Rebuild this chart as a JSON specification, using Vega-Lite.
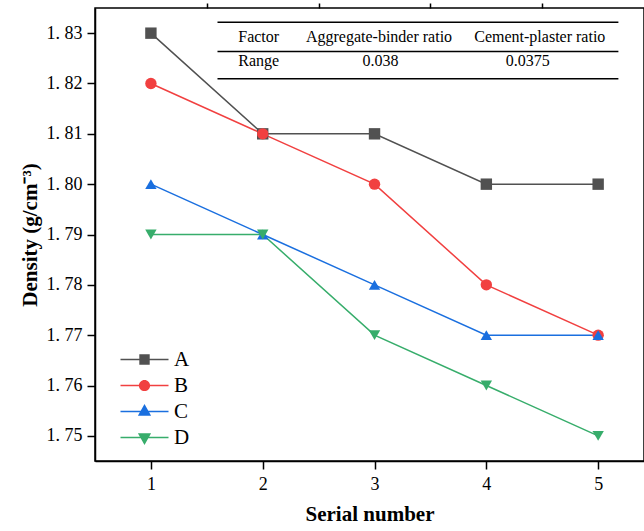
{
  "$schema": "https://vega.github.io/schema/vega-lite/v6.json",
  "width": 549,
  "height": 453,
  "autosize": {"type": "none"},
  "padding": {"left": 95, "top": 8, "right": 0, "bottom": 70},
  "background": "white",
  "config": {
    "view": {"stroke": "black", "strokeWidth": 1.5},
    "font": "Liberation Serif",
    "axis": {
      "domainColor": "black", "domainWidth": 1.5, "tickColor": "black", "tickWidth": 1.5,
      "labelFont": "Liberation Serif", "labelFontSize": 18, "labelColor": "black",
      "titleFont": "Liberation Serif", "titleFontSize": 21, "titleFontWeight": "bold", "titleColor": "black",
      "grid": false
    }
  },
  "datasets": {
    "lines": [
      {"s": "A", "x": 1, "y": 1.83}, {"s": "A", "x": 2, "y": 1.81}, {"s": "A", "x": 3, "y": 1.81}, {"s": "A", "x": 4, "y": 1.80}, {"s": "A", "x": 5, "y": 1.80},
      {"s": "B", "x": 1, "y": 1.82}, {"s": "B", "x": 2, "y": 1.81}, {"s": "B", "x": 3, "y": 1.80}, {"s": "B", "x": 4, "y": 1.78}, {"s": "B", "x": 5, "y": 1.77},
      {"s": "C", "x": 1, "y": 1.80}, {"s": "C", "x": 2, "y": 1.79}, {"s": "C", "x": 3, "y": 1.78}, {"s": "C", "x": 4, "y": 1.77}, {"s": "C", "x": 5, "y": 1.77},
      {"s": "D", "x": 1, "y": 1.79}, {"s": "D", "x": 2, "y": 1.79}, {"s": "D", "x": 3, "y": 1.77}, {"s": "D", "x": 4, "y": 1.76}, {"s": "D", "x": 5, "y": 1.75}
    ],
    "tableText": [
      {"label": "Factor", "tx": 1.964, "ty": 1.82917},
      {"label": "Aggregate-binder ratio", "tx": 3.04, "ty": 1.82917},
      {"label": "Cement-plaster ratio", "tx": 4.478, "ty": 1.82917},
      {"label": "Range", "tx": 1.964, "ty": 1.8245},
      {"label": "0.038", "tx": 3.054, "ty": 1.8245},
      {"label": "0.0375", "tx": 4.371, "ty": 1.8245}
    ],
    "tableRules": [
      {"x1": 1.5955, "x2": 5.181, "ty": 1.83218},
      {"x1": 1.5955, "x2": 5.181, "ty": 1.82635},
      {"x1": 1.5955, "x2": 5.181, "ty": 1.82092}
    ]
  },
  "resolve": {
    "scale": {"color": "independent", "shape": "independent"},
    "axis": {"x": "independent", "y": "independent"}
  },
  "layer": [
    {
      "data": {"name": "lines"},
      "mark": {"type": "line", "strokeWidth": 1.5},
      "encoding": {
        "x": {
          "field": "x", "type": "quantitative",
          "scale": {"domain": [0.5, 5.41], "nice": false, "zero": false},
          "axis": {"values": [1, 2, 3, 4, 5], "title": "Serial number", "tickSize": 8, "labelPadding": 6, "titlePadding": 10, "format": "d"}
        },
        "y": {
          "field": "y", "type": "quantitative",
          "scale": {"domain": [1.745, 1.835], "nice": false, "zero": false},
          "axis": {"values": [1.75, 1.76, 1.77, 1.78, 1.79, 1.80, 1.81, 1.82, 1.83], "title": "Density (g/cm⁻³)", "tickSize": 8, "labelPadding": 5, "titlePadding": 6,
            "labelExpr": "replace(format(datum.value, '.2f'), '.', '. ')"}
        },
        "color": {"field": "s", "type": "nominal", "scale": {"domain": ["A", "B", "C", "D"], "range": ["#515151", "#F14040", "#1A6FDF", "#37AD6B"]}, "legend": null}
      }
    },
    {
      "data": {"name": "lines"},
      "mark": {"type": "point", "filled": true, "size": 130, "opacity": 1},
      "encoding": {
        "x": {"field": "x", "type": "quantitative", "scale": {"domain": [0.5, 5.41], "nice": false, "zero": false},
          "axis": {"values": [1.5, 2.5, 3.5, 4.5], "labels": false, "domain": false, "title": null, "tickSize": 5}},
        "y": {"field": "y", "type": "quantitative", "scale": {"domain": [1.745, 1.835], "nice": false, "zero": false},
          "axis": {"values": [1.745, 1.755, 1.765, 1.775, 1.785, 1.795, 1.805, 1.815, 1.825, 1.835], "labels": false, "domain": false, "title": null, "tickSize": 5}},
        "color": {"field": "s", "type": "nominal", "scale": {"domain": ["A", "B", "C", "D"], "range": ["#515151", "#F14040", "#1A6FDF", "#37AD6B"]}, "legend": null},
        "shape": {"field": "s", "type": "nominal", "scale": {"domain": ["A", "B", "C", "D"], "range": ["square", "circle", "triangle-up", "triangle-down"]}, "legend": null}
      }
    },
    {
      "data": {"name": "lines"},
      "transform": [{"filter": "false"}],
      "mark": {"type": "point", "filled": true, "opacity": 1},
      "encoding": {
        "x": {"field": "x", "type": "quantitative", "scale": {"domain": [0.5, 5.41], "nice": false, "zero": false}, "axis": null},
        "y": {"field": "y", "type": "quantitative", "scale": {"domain": [1.745, 1.835], "nice": false, "zero": false}, "axis": null},
        "color": {"field": "s", "type": "nominal", "scale": {"domain": ["A", "B", "C", "D"], "range": ["#515151", "#F14040", "#1A6FDF", "#37AD6B"]},
          "legend": {"orient": "none", "legendX": 39, "legendY": 341, "title": null, "symbolSize": 400, "symbolStrokeWidth": 0, "symbolOpacity": 1, "labelFontSize": 21, "labelFont": "Liberation Serif", "labelColor": "black", "labelOffset": 19, "rowPadding": 4}},
        "shape": {"field": "s", "type": "nominal", "scale": {"domain": ["A", "B", "C", "D"], "range": [
          "M-2.4,-0.08H2.4V0.08H-2.4Z M-0.52,-0.52H0.52V0.52H-0.52Z",
          "M-2.4,-0.08H2.4V0.08H-2.4Z M-0.56,0A0.56,0.56 0 1,1 0.56,0A0.56,0.56 0 1,1 -0.56,0Z",
          "M-2.4,-0.08H2.4V0.08H-2.4Z M0,-0.75L0.66,0.42H-0.66Z",
          "M-2.4,-0.08H2.4V0.08H-2.4Z M0,0.75L-0.66,-0.42H0.66Z"
        ]},
          "legend": {"orient": "none", "legendX": 39, "legendY": 341, "title": null, "symbolSize": 400, "symbolStrokeWidth": 0, "symbolOpacity": 1, "labelFontSize": 21, "labelFont": "Liberation Serif", "labelColor": "black", "labelOffset": 19, "rowPadding": 4}}
      }
    },
    {
      "data": {"name": "tableRules"},
      "mark": {"type": "rule", "color": "black", "strokeWidth": 1.5},
      "encoding": {
        "x": {"field": "x1", "type": "quantitative", "scale": {"domain": [0.5, 5.41], "nice": false, "zero": false}, "axis": null},
        "x2": {"field": "x2"},
        "y": {"field": "ty", "type": "quantitative", "scale": {"domain": [1.745, 1.835], "nice": false, "zero": false}, "axis": null}
      }
    },
    {
      "data": {"name": "tableText"},
      "mark": {"type": "text", "font": "Liberation Serif", "fontSize": 16, "color": "black", "align": "center", "baseline": "middle"},
      "encoding": {
        "x": {"field": "tx", "type": "quantitative", "scale": {"domain": [0.5, 5.41], "nice": false, "zero": false}, "axis": null},
        "y": {"field": "ty", "type": "quantitative", "scale": {"domain": [1.745, 1.835], "nice": false, "zero": false}, "axis": null},
        "text": {"field": "label"}
      }
    }
  ]
}
